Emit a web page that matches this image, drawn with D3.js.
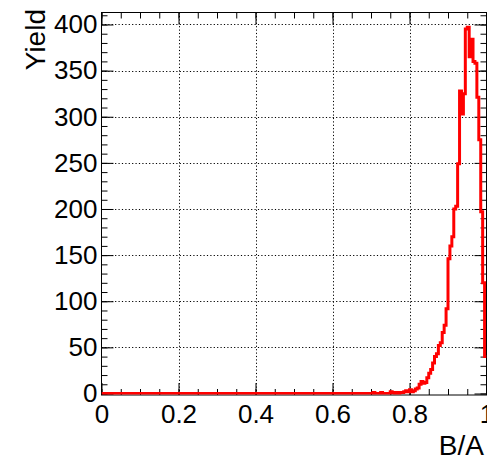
<!DOCTYPE html>
<html>
<head>
<meta charset="utf-8">
<script src="https://cdn.jsdelivr.net/npm/d3@7"></script>
<style>
  html, body { margin: 0; padding: 0; background: #fff; }
  svg { display: block; }
  text { font-family: "Liberation Sans", Arial, Helvetica, sans-serif; fill: #000; }
</style>
</head>
<body>
<svg id="chart" width="487" height="460"></svg>
<script>
// Histogram of B/A: 200 bins on [0, 1]
const xMin = 0, xMax = 1;
const counts = [
  0,0,0,0,0,0,0,0,0,0,0,0,0,0,0,0,0,0,0,0,
  0,0,0,0,0,0,0,0,0,0,0,0,0,0,0,0,0,0,0,0,
  0,0,0,0,0,0,0,0,0,0,0,0,0,0,0,0,0,0,0,0,
  0,0,0,0,0,0,0,0,0,0,0,0,0,0,0,0,0,0,0,0,
  0,0,0,0,0,0,0,0,0,0,0,0,0,0,0,0,0,0,0,0,
  0,0,0,0,0,0,0,0,0,0,0,0,0,0,0,0,0,0,0,0,
  0,0,0,0,0,0,0,0,0,0,0,0,0,0,0,0,0,0,0,0,
  0,1,0,0,0,1,0,0,0,0,2,1,0,1,0,1,1,2,3,2,
  4,2,3,5,6,10,13,11,12,17,22,26,33,40,43,52,55,66,74,92,
  146,160,170,200,203,249,328,303,325,395,397,365,384,360,358,321,275,197,120,40
];
const xTickValues = [0, 0.2, 0.4, 0.6, 0.8, 1];
const xTickLabels = ["0", "0.2", "0.4", "0.6", "0.8", "1"];
const yTickValues = [0, 50, 100, 150, 200, 250, 300, 350, 400];
const yMaxShown = 413;
const xTitle = "B/A";
const yTitle = "Yield";

const svg = d3.select("#chart");
const frame = { left: 101.5, right: 486.5, top: 12.5, bottom: 395 };

const x = d3.scaleLinear().domain([xMin, xMax]).range([frame.left, frame.right]);
const y = d3.scaleLinear().domain([0, yMaxShown]).range([frame.bottom - 1.5, frame.top]);

// the histogram is clipped to the inside of the frame
svg.append("defs").append("clipPath").attr("id", "plotClip")
  .append("rect")
  .attr("x", frame.left).attr("y", frame.top)
  .attr("width", frame.right - frame.left).attr("height", frame.bottom - 0.5 - frame.top);

// dotted grid at the major divisions
const grid = svg.append("g")
  .attr("stroke", "#000").attr("stroke-width", 1)
  .attr("stroke-dasharray", "1.2,2.2").attr("fill", "none");
grid.selectAll("line.gx").data(xTickValues.slice(1, -1)).join("line")
  .attr("x1", d => Math.round(x(d)) + 0.5).attr("x2", d => Math.round(x(d)) + 0.5)
  .attr("y1", frame.top).attr("y2", frame.bottom);
grid.selectAll("line.gy").data(yTickValues.slice(1)).join("line")
  .attr("x1", frame.left).attr("x2", frame.right)
  .attr("y1", d => Math.round(y(d)) + 0.5).attr("y2", d => Math.round(y(d)) + 0.5);

// axes with inward ticks on all four sides
const xMinor = d3.range(0, 21).map(i => i * 0.05);
const yMinor = d3.range(0, 42).map(i => i * 10);

function styleAxis(g) {
  g.select(".domain").remove();
  g.selectAll(".tick line").attr("stroke", "#000").attr("stroke-width", 1);
}

svg.append("g").attr("transform", `translate(0,${frame.bottom})`)
  .call(d3.axisBottom(x).tickValues(xMinor).tickSize(-6).tickFormat(""))
  .call(styleAxis);
svg.append("g").attr("transform", `translate(0,${frame.bottom})`)
  .call(d3.axisBottom(x).tickValues(xTickValues).tickSize(-12).tickPadding(10)
        .tickFormat((d, i) => xTickLabels[i]))
  .call(styleAxis)
  .call(g => g.selectAll("text").attr("font-size", 26));

svg.append("g").attr("transform", `translate(0,${frame.top})`)
  .call(d3.axisTop(x).tickValues(xMinor).tickSize(-6).tickFormat(""))
  .call(styleAxis);
svg.append("g").attr("transform", `translate(0,${frame.top})`)
  .call(d3.axisTop(x).tickValues(xTickValues).tickSize(-12).tickFormat(""))
  .call(styleAxis);

svg.append("g").attr("transform", `translate(${frame.left},0)`)
  .call(d3.axisLeft(y).tickValues(yMinor).tickSize(-6).tickFormat(""))
  .call(styleAxis);
svg.append("g").attr("transform", `translate(${frame.left},0)`)
  .call(d3.axisLeft(y).tickValues(yTickValues).tickSize(-12).tickPadding(4))
  .call(styleAxis)
  .call(g => g.selectAll("text").attr("font-size", 26));

svg.append("g").attr("transform", `translate(${frame.right},0)`)
  .call(d3.axisRight(y).tickValues(yMinor).tickSize(-6).tickFormat(""))
  .call(styleAxis);
svg.append("g").attr("transform", `translate(${frame.right},0)`)
  .call(d3.axisRight(y).tickValues(yTickValues).tickSize(-12).tickFormat(""))
  .call(styleAxis);

// frame
svg.append("rect")
  .attr("x", frame.left).attr("y", frame.top)
  .attr("width", frame.right - frame.left).attr("height", frame.bottom - frame.top)
  .attr("fill", "none").attr("stroke", "#000").attr("stroke-width", 1);

// histogram outline as a step line
const bw = (xMax - xMin) / counts.length;
const steps = counts.map((c, i) => [xMin + i * bw, c]);
steps.push([xMax, counts[counts.length - 1]]);
svg.append("path")
  .datum(steps)
  .attr("clip-path", "url(#plotClip)")
  .attr("fill", "none")
  .attr("stroke", "#ff0000")
  .attr("stroke-width", 3)
  .attr("d", d3.line().x(d => x(d[0])).y(d => y(d[1])).curve(d3.curveStepAfter));

// axis titles
svg.append("text")
  .attr("x", 484).attr("y", 455)
  .attr("text-anchor", "end").attr("font-size", 28)
  .text(xTitle);
svg.append("text")
  .attr("transform", "translate(45,9) rotate(-90)")
  .attr("text-anchor", "end").attr("font-size", 28)
  .text(yTitle);
</script>
</body>
</html>
